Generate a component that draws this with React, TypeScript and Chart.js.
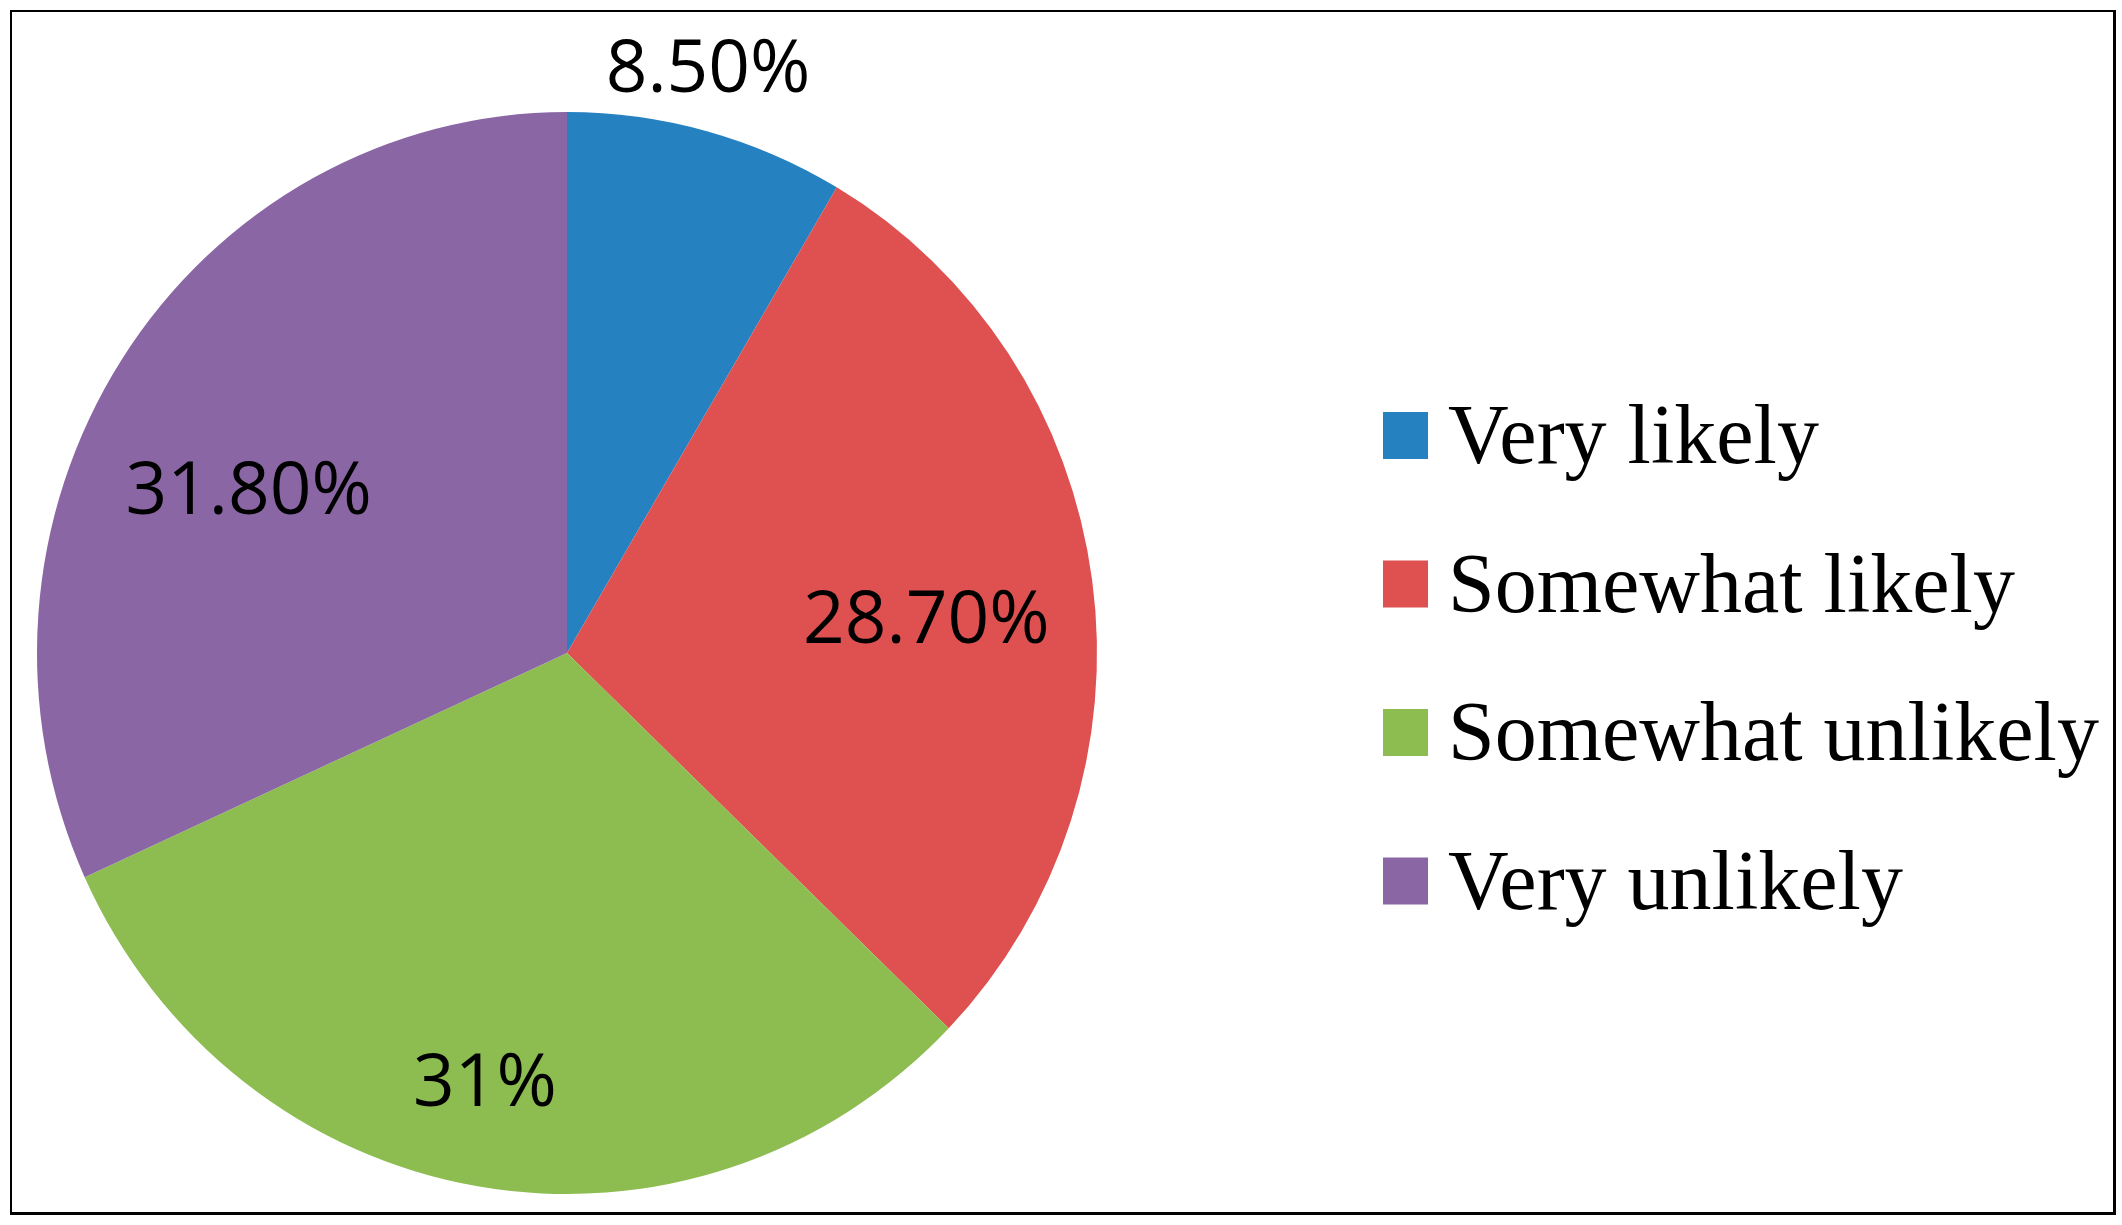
import React, { useEffect, useRef } from 'react';
import { Chart, registerables } from 'chart.js';

Chart.register(...registerables);

// ---- data ----
const categories = ['Very likely', 'Somewhat likely', 'Somewhat unlikely', 'Very unlikely'];
const values = [8.5, 28.7, 31, 31.8];
const valueLabels = ['8.50%', '28.70%', '31%', '31.80%'];
const sliceColors = ['#2581C0', '#DE5150', '#8DBC51', '#8B66A5'];

// ---- label placement (relative to slice geometry) ----
const labelRadiusFactor = [1.117, 0.681, 0.804, 0.674];
const labelAngleShiftDeg = [-1.52, 2.2, 1.37, -5.79];
const verticalStretch = 1.0208; // the reference pie is slightly taller than wide

const sliceLabelsPlugin = {
  id: 'sliceLabels',
  beforeDatasetsDraw(chart: any) {
    const ctx = chart.ctx;
    const meta = chart.getDatasetMeta(0);
    const cy = meta.data.length ? meta.data[0].y : 0;
    ctx.save();
    ctx.translate(0, cy);
    ctx.scale(1, verticalStretch);
    ctx.translate(0, -cy);
  },
  afterDatasetsDraw(chart: any) {
    const ctx = chart.ctx;
    ctx.restore();
    const meta = chart.getDatasetMeta(0);
    ctx.save();
    ctx.font = '73px "Open Sans"';
    ctx.fillStyle = '#000000';
    ctx.textAlign = 'center';
    ctx.textBaseline = 'alphabetic';
    meta.data.forEach((arc: any, i: number) => {
      const p = arc.getProps(['x', 'y', 'startAngle', 'endAngle', 'outerRadius'], true);
      const a = (p.startAngle + p.endAngle) / 2 + (labelAngleShiftDeg[i] * Math.PI) / 180;
      const r = p.outerRadius * labelRadiusFactor[i];
      const x = p.x + r * Math.cos(a);
      const y = p.y + r * Math.sin(a) * verticalStretch;
      ctx.fillText(valueLabels[i], x, y + 26);
    });
    ctx.restore();
  },
};

const sideLegendPlugin = {
  id: 'sideLegend',
  afterDraw(chart: any) {
    const { ctx, chartArea } = chart;
    const ds = chart.data.datasets[0];
    const boxX = chartArea.right + 286;
    const firstCenter = chartArea.top + 312.5;
    const step = 148.5;
    ctx.save();
    ctx.font = '84px "Liberation Serif"';
    ctx.textAlign = 'left';
    ctx.textBaseline = 'alphabetic';
    (chart.data.labels as string[]).forEach((lab: string, i: number) => {
      const cy = firstCenter + i * step;
      ctx.fillStyle = ds.backgroundColor[i];
      ctx.fillRect(boxX, cy - 23.5, 45, 47);
      ctx.fillStyle = '#000000';
      ctx.fillText(lab, boxX + 65, cy + 27.5);
    });
    ctx.restore();
  },
};

export default function App() {
  const canvasRef = useRef<HTMLCanvasElement | null>(null);

  useEffect(() => {
    if (!canvasRef.current) return;
    const chart = new Chart(canvasRef.current, {
      type: 'pie',
      data: {
        labels: categories,
        datasets: [
          {
            data: values,
            backgroundColor: sliceColors,
            borderWidth: 0,
          },
        ],
      },
      options: {
        animation: false,
        responsive: true,
        maintainAspectRatio: false,
        layout: { padding: { left: 37, right: 1025, top: 123, bottom: 42 } },
        plugins: {
          legend: { display: false },
          tooltip: { enabled: false },
          title: { display: false },
        },
      },
      plugins: [sliceLabelsPlugin, sideLegendPlugin],
    });
    return () => chart.destroy();
  }, []);

  return (
    <div
      style={{
        position: 'fixed',
        left: 0,
        top: 0,
        width: 2122,
        height: 1225,
        background: '#ffffff',
      }}
    >
      <div
        style={{
          position: 'absolute',
          left: 10,
          top: 10,
          width: 2106,
          height: 1205,
          boxSizing: 'border-box',
          borderLeft: '2px solid #000',
          borderTop: '2px solid #000',
          borderRight: '3px solid #000',
          borderBottom: '3px solid #000',
        }}
      />
      <div style={{ position: 'absolute', left: 0, top: 0, width: 2122, height: 1225 }}>
        <canvas ref={canvasRef} />
      </div>
    </div>
  );
}
